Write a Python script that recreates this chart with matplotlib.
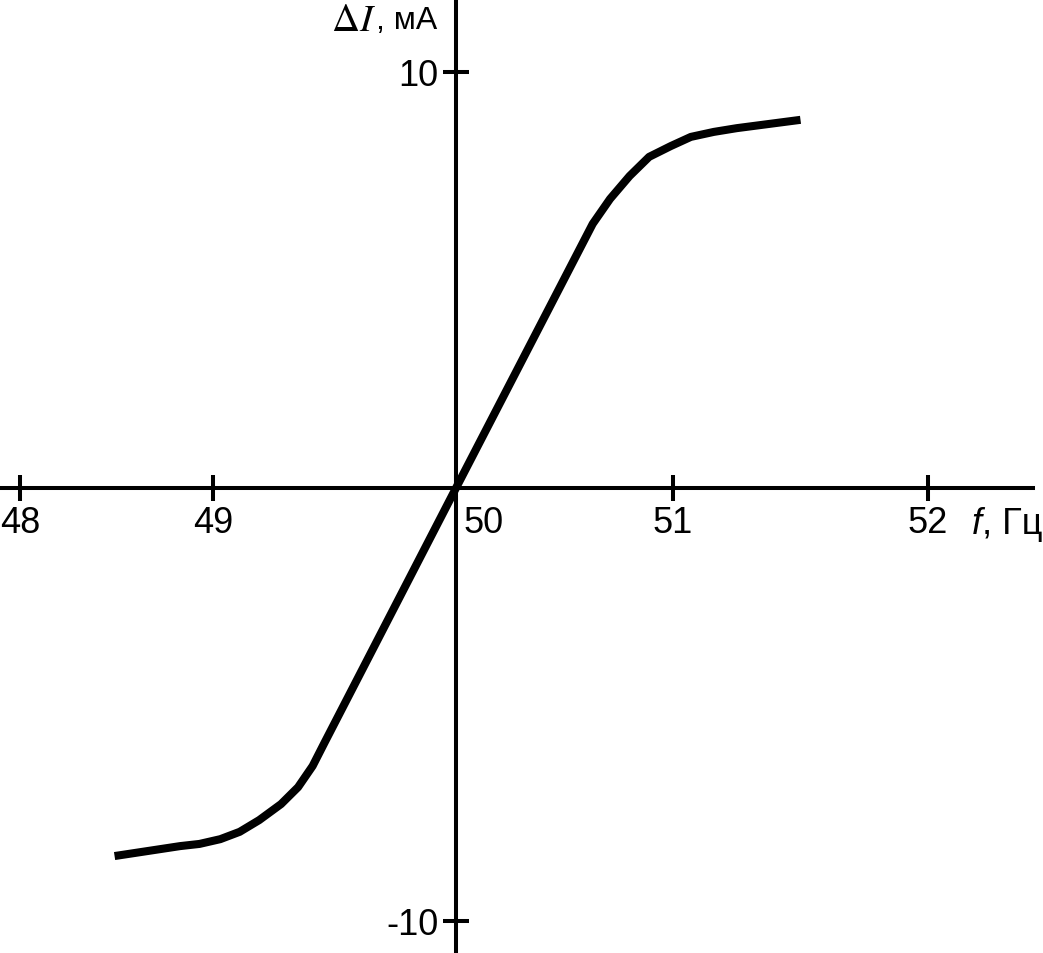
import numpy as np
import matplotlib
matplotlib.use("Agg")
import matplotlib.pyplot as plt
import matplotlib.transforms as mtransforms

plt.rcParams['font.family'] = ['Liberation Sans', 'DejaVu Sans']
plt.rcParams['mathtext.fontset'] = 'stix'
plt.rcParams['axes.unicode_minus'] = False

#====================
# Data
#====================
freq = [48.49, 48.83, 48.93, 49.03, 49.11, 49.19, 49.28, 49.35, 49.41, 49.46,
        50.0,
        50.63, 50.71, 50.80, 50.89, 50.99, 51.07, 51.16, 51.25, 51.50]
delta_i = [-8.50, -8.27, -8.22, -8.11, -7.94, -7.67, -7.30, -6.91, -6.42, -5.87,
           0.0,
           6.35, 6.95, 7.50, 7.96, 8.22, 8.44, 8.56, 8.65, 8.85]
x_ticks = [48, 49, 50, 51, 52]
y_ticks = [-10, 10]

#====================
# The drawing is not to scale (uneven tick spacing), so the axes
# use a piecewise-linear scale through the tick positions
#====================
x_knots = [47.896, 48, 49, 50, 51, 52, 52.451]
x_px = [0, 20, 213, 456, 673, 928, 1043]
y_knots = [-10.739, -10, 0, 10, 11.755]
y_px = [0, 32, 465, 881, 954]

def x_fwd(v):
    return np.interp(v, x_knots, x_px)

def x_inv(p):
    return np.interp(p, x_px, x_knots)

def y_fwd(v):
    return np.interp(v, y_knots, y_px)

def y_inv(p):
    return np.interp(p, y_px, y_knots)

fig = plt.figure(figsize=(10.43, 9.54), dpi=100)
ax = fig.add_axes([0, 0, 1, 1])
ax.set_xscale('function', functions=(x_fwd, x_inv))
ax.set_yscale('function', functions=(y_fwd, y_inv))
ax.set_xlim(x_knots[0], x_knots[-1])
ax.set_ylim(y_knots[0], y_knots[-1])

ax.plot(freq, delta_i, color='black', lw=5.8, solid_capstyle='butt',
        solid_joinstyle='round', zorder=3)

# axes through the origin (50, 0)
for side in ['top', 'right']:
    ax.spines[side].set_visible(False)
ax.spines['left'].set_position(('data', 50))
ax.spines['bottom'].set_position(('data', 0))
ax.spines['bottom'].set_bounds(x_inv(2), x_inv(1033))
for side in ['left', 'bottom']:
    ax.spines[side].set_linewidth(2.9)

ax.set_xticks(x_ticks)
ax.set_yticks(y_ticks)
ax.tick_params(axis='both', direction='inout', length=19, width=2.9,
               labelsize=26, color='black')
ax.tick_params(axis='x', pad=3)
ax.tick_params(axis='y', pad=3)
ax.minorticks_off()

# the "50" label sits to the right of the vertical axis
for lab in ax.get_xticklabels():
    if lab.get_text() == '50':
        lab.set_transform(lab.get_transform() +
                          mtransforms.ScaledTranslation(0.28, 0, fig.dpi_scale_trans))

# axis titles
W, H = 1043, 954
fig.text(982 / W, 1 - 525 / H, 'f', fontsize=26, style='italic',
         ha='right', va='center')
fig.text(1042 / W, 1 - 525 / H, ', Гц', fontsize=26, ha='right', va='center')
fig.text(376 / W, 1 - 21 / H, r'$\Delta I$', fontsize=28, ha='right', va='center')
fig.text(376 / W, 1 - 21 / H, ', мА', fontsize=23, ha='left', va='center')

fig.savefig('out.png', dpi=100)
